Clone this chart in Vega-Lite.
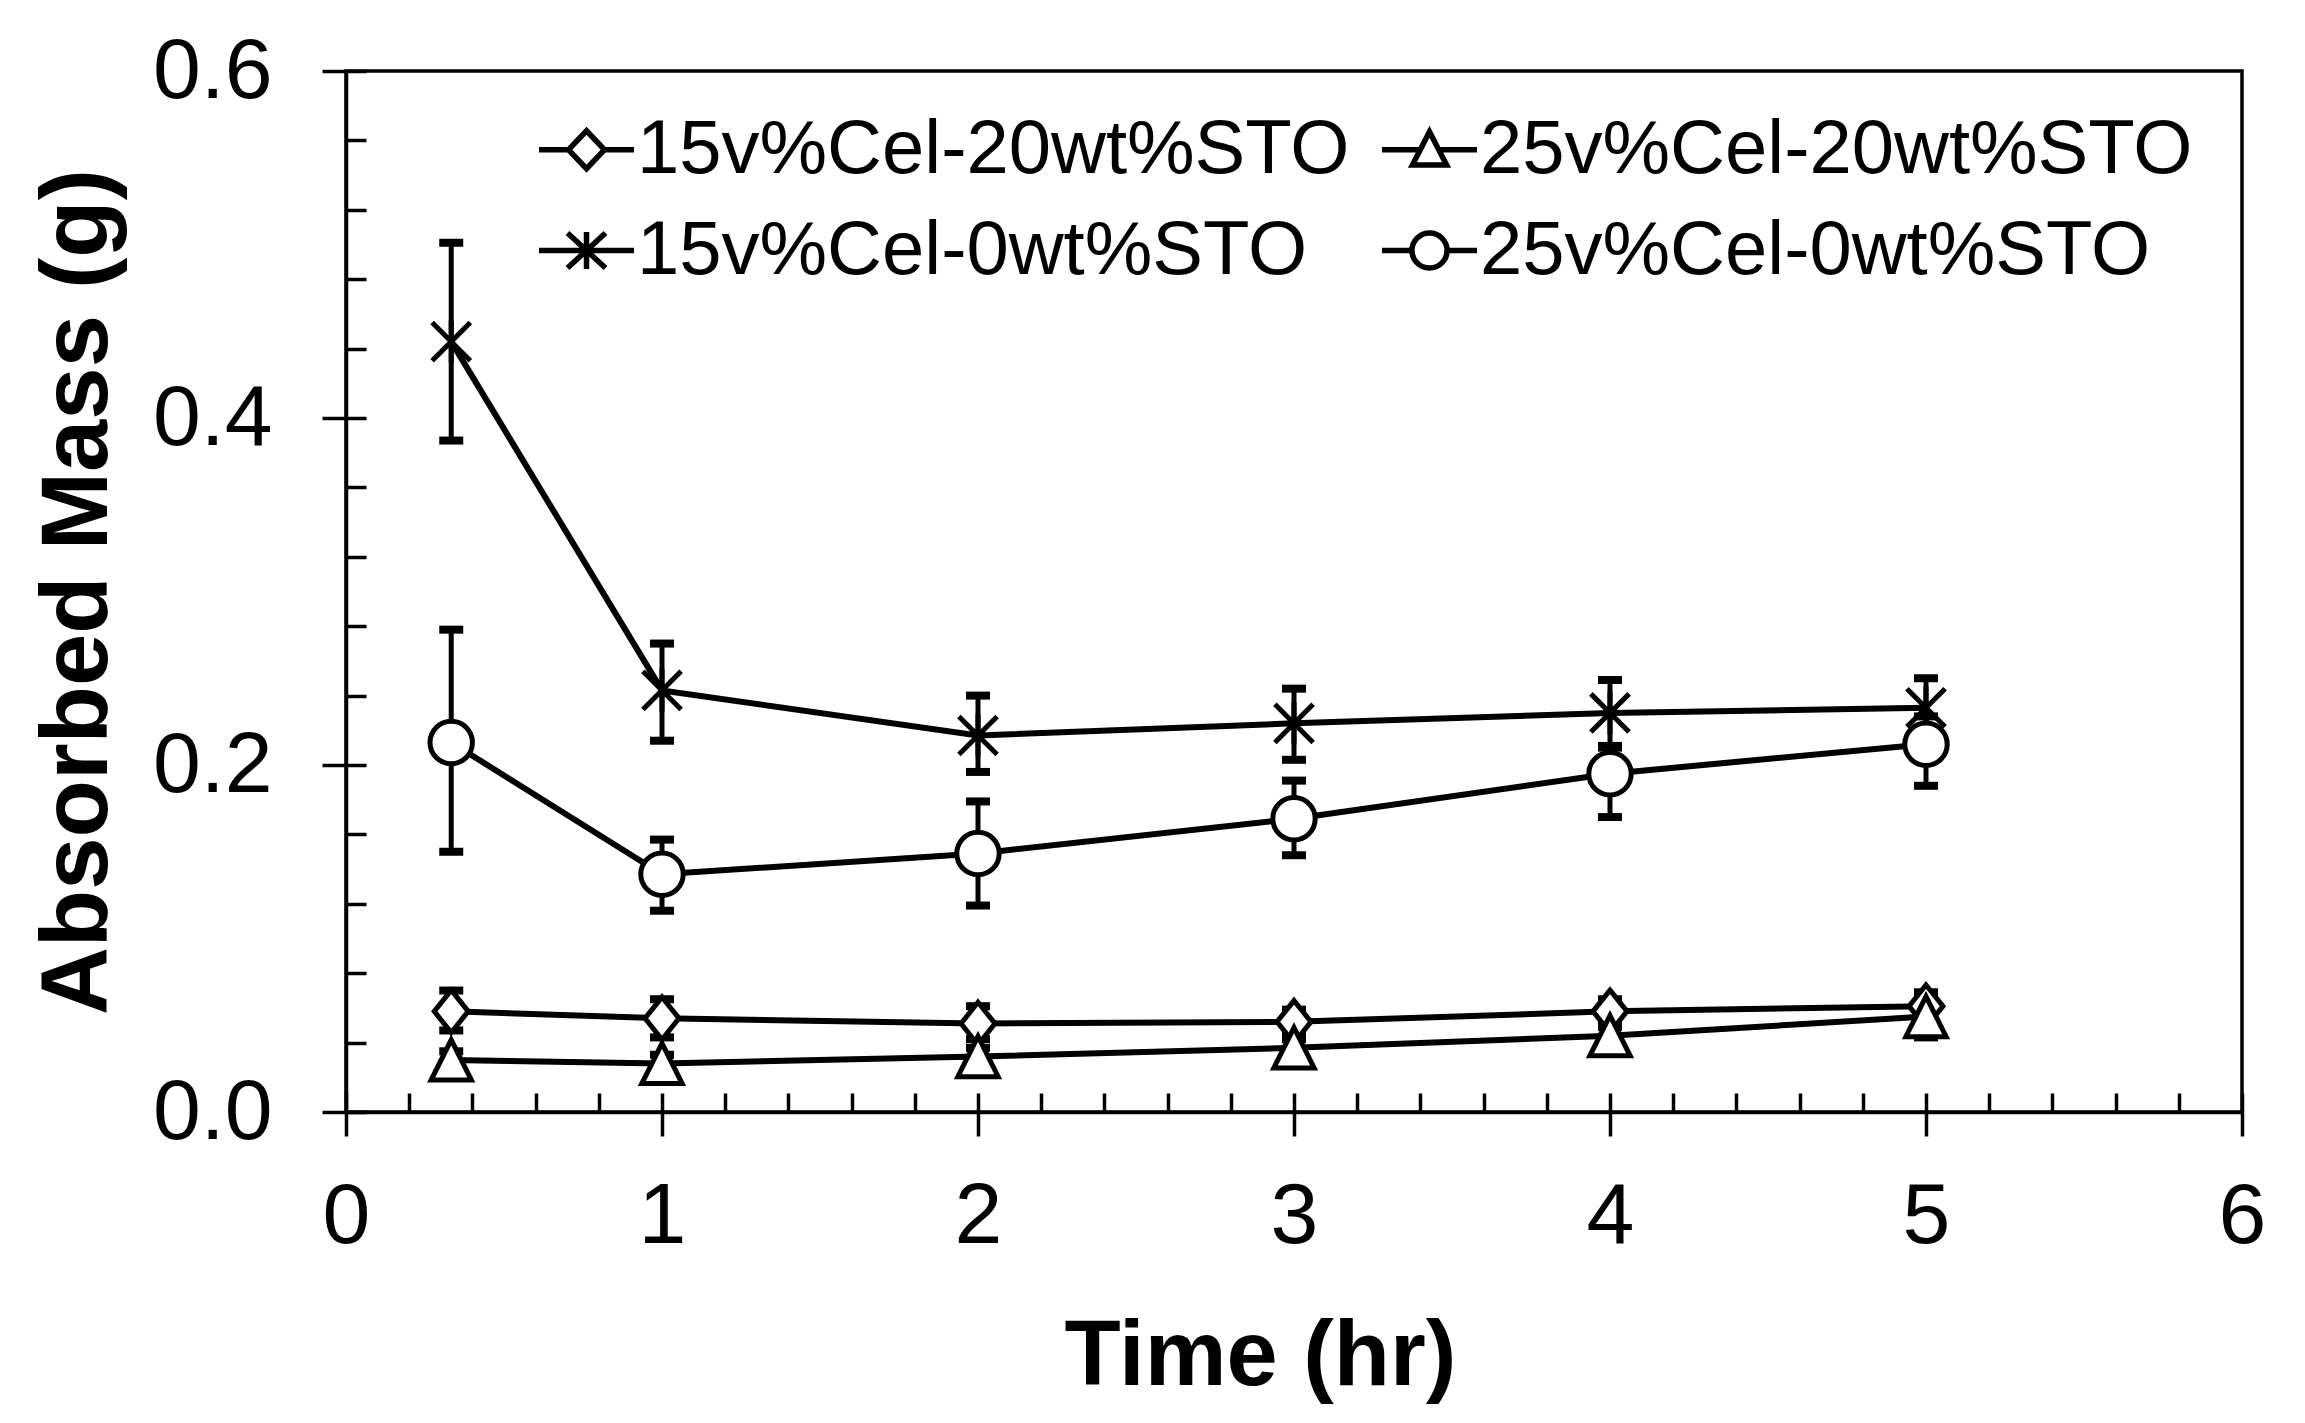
{
  "$schema": "https://vega.github.io/schema/vega-lite/v6.json",
  "width": 1896,
  "height": 1041,
  "autosize": {"type": "none"},
  "padding": {"left": 346, "top": 71, "right": 63, "bottom": 311},
  "background": "white",
  "config": {
    "font": "Liberation Sans",
    "view": {"stroke": "black", "strokeWidth": 3.5}
  },
  "data": {
    "values": [
      {"series": "15v%Cel-20wt%STO", "time": 0.333, "mass": 0.058, "lo": 0.047, "hi": 0.070},
      {"series": "15v%Cel-20wt%STO", "time": 1, "mass": 0.054, "lo": 0.043, "hi": 0.065},
      {"series": "15v%Cel-20wt%STO", "time": 2, "mass": 0.051, "lo": 0.042, "hi": 0.061},
      {"series": "15v%Cel-20wt%STO", "time": 3, "mass": 0.052, "lo": 0.045, "hi": 0.059},
      {"series": "15v%Cel-20wt%STO", "time": 4, "mass": 0.058, "lo": 0.051, "hi": 0.065},
      {"series": "15v%Cel-20wt%STO", "time": 5, "mass": 0.061, "lo": 0.054, "hi": 0.069},
      {"series": "25v%Cel-20wt%STO", "time": 0.333, "mass": 0.030, "lo": 0.025, "hi": 0.035},
      {"series": "25v%Cel-20wt%STO", "time": 1, "mass": 0.028, "lo": 0.023, "hi": 0.033},
      {"series": "25v%Cel-20wt%STO", "time": 2, "mass": 0.032, "lo": 0.027, "hi": 0.037},
      {"series": "25v%Cel-20wt%STO", "time": 3, "mass": 0.037, "lo": 0.032, "hi": 0.042},
      {"series": "25v%Cel-20wt%STO", "time": 4, "mass": 0.044, "lo": 0.039, "hi": 0.049},
      {"series": "25v%Cel-20wt%STO", "time": 5, "mass": 0.055, "lo": 0.043, "hi": 0.062},
      {"series": "15v%Cel-0wt%STO", "time": 0.333, "mass": 0.444, "lo": 0.387, "hi": 0.501},
      {"series": "15v%Cel-0wt%STO", "time": 1, "mass": 0.243, "lo": 0.214, "hi": 0.270},
      {"series": "15v%Cel-0wt%STO", "time": 2, "mass": 0.217, "lo": 0.196, "hi": 0.240},
      {"series": "15v%Cel-0wt%STO", "time": 3, "mass": 0.224, "lo": 0.203, "hi": 0.244},
      {"series": "15v%Cel-0wt%STO", "time": 4, "mass": 0.230, "lo": 0.210, "hi": 0.249},
      {"series": "15v%Cel-0wt%STO", "time": 5, "mass": 0.233, "lo": 0.216, "hi": 0.250},
      {"series": "25v%Cel-0wt%STO", "time": 0.333, "mass": 0.213, "lo": 0.150, "hi": 0.278},
      {"series": "25v%Cel-0wt%STO", "time": 1, "mass": 0.137, "lo": 0.116, "hi": 0.157},
      {"series": "25v%Cel-0wt%STO", "time": 2, "mass": 0.149, "lo": 0.119, "hi": 0.179},
      {"series": "25v%Cel-0wt%STO", "time": 3, "mass": 0.169, "lo": 0.148, "hi": 0.191},
      {"series": "25v%Cel-0wt%STO", "time": 4, "mass": 0.195, "lo": 0.170, "hi": 0.211},
      {"series": "25v%Cel-0wt%STO", "time": 5, "mass": 0.212, "lo": 0.188, "hi": 0.228}
    ]
  },
  "layer": [
    {
      "mark": {"type": "rule", "color": "black", "strokeWidth": 5},
      "encoding": {
        "x": {"field": "time", "type": "quantitative", "scale": {"domain": [0, 6], "nice": false, "zero": false},
          "axis": {"orient": "bottom", "values": [0,0.2,0.4,0.6,0.8,1,1.2,1.4,1.6,1.8,2,2.2,2.4,2.6,2.8,3,3.2,3.4,3.6,3.8,4,4.2,4.4,4.6,4.8,5,5.2,5.4,5.6,5.8,6], "tickSize": -19, "tickWidth": 3.5, "tickColor": "black", "labels": false, "domain": false, "grid": false, "title": null}},
        "y": {"field": "lo", "type": "quantitative", "scale": {"domain": [0, 0.6], "nice": false, "zero": false},
          "axis": {"orient": "left", "values": [0,0.04,0.08,0.12,0.16,0.2,0.24,0.28,0.32,0.36,0.4,0.44,0.48,0.52,0.56,0.6], "tickSize": -20, "tickWidth": 3.5, "tickColor": "black", "labels": false, "domain": false, "grid": false, "title": null}},
        "y2": {"field": "hi"}
      }
    },
    {
      "mark": {"type": "tick", "orient": "horizontal", "color": "black", "size": 24, "thickness": 8, "opacity": 1},
      "encoding": {
        "x": {"field": "time", "type": "quantitative", "scale": {"domain": [0, 6]}, "axis": null},
        "y": {"field": "lo", "type": "quantitative", "scale": {"domain": [0, 0.6]}, "axis": null}
      }
    },
    {
      "mark": {"type": "tick", "orient": "horizontal", "color": "black", "size": 24, "thickness": 8, "opacity": 1},
      "encoding": {
        "x": {"field": "time", "type": "quantitative", "scale": {"domain": [0, 6]}, "axis": null},
        "y": {"field": "hi", "type": "quantitative", "scale": {"domain": [0, 0.6]}, "axis": null}
      }
    },
    {
      "mark": {"type": "line", "color": "black", "strokeWidth": 6},
      "encoding": {
        "x": {"field": "time", "type": "quantitative", "scale": {"domain": [0, 6]},
          "axis": {"orient": "bottom", "values": [0,1,2,3,4,5,6], "format": "d", "title": "Time (hr)", "tickSize": 24, "tickWidth": 3.5, "tickColor": "black", "domainColor": "black", "domainWidth": 3.5, "labelFont": "Liberation Sans", "labelFontSize": 86, "labelColor": "black", "labelPadding": 38, "labelFlush": false, "labelOverlap": false, "titleFont": "Liberation Sans", "titleFontSize": 92, "titleFontWeight": "bold", "titleColor": "black", "titlePadding": 52, "titleX": 914, "titleAlign": "center", "grid": false}},
        "y": {"field": "mass", "type": "quantitative", "scale": {"domain": [0, 0.6]},
          "axis": {"orient": "left", "values": [0,0.2,0.4,0.6], "format": ".1f", "title": "Absorbed Mass (g)", "tickSize": 24, "tickWidth": 3.5, "tickColor": "black", "domainColor": "black", "domainWidth": 3.5, "labelFont": "Liberation Sans", "labelFontSize": 86, "labelColor": "black", "labelPadding": 50, "labelFlush": false, "labelOverlap": false, "titleFont": "Liberation Sans", "titleFontSize": 94, "titleFontWeight": "bold", "titleColor": "black", "titlePadding": 26, "grid": false}},
        "detail": {"field": "series", "type": "nominal"}
      }
    },
    {
      "mark": {"type": "point", "filled": true, "fill": "white", "stroke": "black", "strokeWidth": 5, "size": 1800, "opacity": 1},
      "encoding": {
        "x": {"field": "time", "type": "quantitative", "scale": {"domain": [0, 6]}, "axis": null},
        "y": {"field": "mass", "type": "quantitative", "scale": {"domain": [0, 0.6]}, "axis": null},
        "shape": {"field": "series", "type": "nominal",
          "scale": {"domain": ["15v%Cel-20wt%STO", "25v%Cel-20wt%STO", "15v%Cel-0wt%STO", "25v%Cel-0wt%STO"],
            "range": ["M0,-1L0.8,0L0,1L-0.8,0Z", "M0,-0.95L0.95,0.95L-0.95,0.95Z", "M-0.9,-0.9L0.9,0.9M-0.9,0.9L0.9,-0.9M0,-1L0,1", "circle"]},
          "legend": null}
      }
    },
    {
      "transform": [{"filter": "datum.mass > 1"}],
      "mark": {"type": "point", "filled": false, "color": "black", "strokeWidth": 5, "size": 1444, "opacity": 1},
      "encoding": {
        "x": {"field": "time", "type": "quantitative", "scale": {"domain": [0, 6]}, "axis": null},
        "y": {"field": "mass", "type": "quantitative", "scale": {"domain": [0, 0.6]}, "axis": null},
        "shape": {"field": "series", "type": "nominal",
          "scale": {"domain": ["15v%Cel-20wt%STO", "15v%Cel-0wt%STO", "25v%Cel-20wt%STO", "25v%Cel-0wt%STO"],
            "range": [
              "M-1,0L-0.38,0M0.38,0L1,0M0,-0.4L0.38,0L0,0.4L-0.38,0Z",
              "M-1,0L1,0M-0.4,-0.37L0.4,0.37M-0.4,0.37L0.4,-0.37M0,-0.39L0,0.39",
              "M-1,0L-0.2,0M0.2,0L1,0M0,-0.38L0.36,0.32L-0.36,0.32Z",
              "M-1,0L-0.37,0M0.37,0L1,0M-0.37,0A0.37,0.37,0,1,1,0.37,0A0.37,0.37,0,1,1,-0.37,0Z"
            ]},
          "legend": {"title": null, "orient": "none", "legendX": 190, "legendY": 28, "columns": 2, "columnPadding": 21, "rowPadding": 12, "symbolSize": 9025, "symbolStrokeWidth": 5.5, "symbolFillColor": "white", "symbolStrokeColor": "black", "symbolOpacity": 1, "labelFont": "Liberation Sans", "labelFontSize": 76, "labelColor": "black", "labelOffset": 0, "labelLimit": 2000,
            "encode": {"symbols": {"update": {"stroke": {"value": "black"}, "fill": {"value": "white"}, "strokeWidth": {"value": 5.5}, "opacity": {"value": 1}}}}}}
      }
    }
  ],
  "resolve": {"scale": {"shape": "independent"}, "axis": {"x": "independent", "y": "independent"}}
}
